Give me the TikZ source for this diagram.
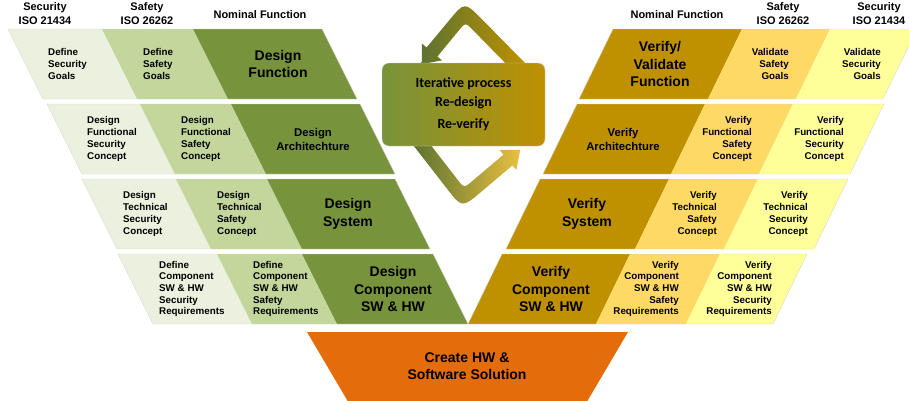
\documentclass[tikz,border=0pt]{standalone}
\usepackage{fontspec}
\setmainfont{Liberation Sans}
\newfontfamily\calfont{Carlito}
\definecolor{greenA}{HTML}{EBF1DE}
\definecolor{greenB}{HTML}{C3D69B}
\definecolor{greenC}{HTML}{77933C}
\definecolor{goldA}{HTML}{FFFF99}
\definecolor{goldB}{HTML}{FFD966}
\definecolor{goldC}{HTML}{BF9000}
\definecolor{orangeV}{HTML}{E46C0A}
\definecolor{arrowG}{HTML}{5C7331}
\definecolor{arrowY}{HTML}{E8C040}

\begin{document}
\begin{tikzpicture}[x=1pt,y=-1pt,
 rowline/.style={draw=black!16,line width=0.4pt},
 head/.style={font=\fontsize{11}{14}\selectfont\bfseries,align=center,inner sep=0pt},
 small/.style={font=\fontsize{9.8}{11.7}\selectfont\bfseries,inner sep=0pt},
 big/.style={font=\fontsize{14}{17.5}\selectfont\bfseries,align=center,inner sep=0pt},
 mid/.style={font=\fontsize{11.3}{14}\selectfont\bfseries,align=center,inner sep=0pt},
 box/.style={rounded corners=7pt,minimum width=163pt,minimum height=83pt,
   left color=greenC,right color=goldC,draw=black!20,align=center,inner sep=0pt,
   font=\calfont\bfseries\fontsize{14}{19}\selectfont}]
\useasboundingbox (0,0) rectangle (909,400);

% design side
\foreach \t/\a/\b/\c/\d in {29/8/102/193/322,104/47/140/231/360,179/82/176/267/395,254/118/217/302/433}{
 \fill[greenA] (\a,\t) -- (\b,\t) -- (\b+35,\t+70) -- (\a+35,\t+70) -- cycle;
 \fill[greenB] (\b,\t) -- (\c,\t) -- (\c+35,\t+70) -- (\b+35,\t+70) -- cycle;
 \fill[greenC] (\c,\t) -- (\d,\t) -- (\d+35,\t+70) -- (\c+35,\t+70) -- cycle;
 \draw[rowline] (\a,\t) -- (\d,\t) -- (\d+35,\t+70) -- (\a+35,\t+70) -- cycle;
}
% verify side
\foreach \t/\a/\b/\c/\d in {29/613/742/830/917,104/577/705/793/884,179/540/669/758/848,254/502/630/720/807}{
 \fill[goldC] (\a,\t) -- (\b,\t) -- (\b-34,\t+70) -- (\a-34,\t+70) -- cycle;
 \fill[goldB] (\b,\t) -- (\c,\t) -- (\c-34,\t+70) -- (\b-34,\t+70) -- cycle;
 \fill[goldA] (\c,\t) -- (\d,\t) -- (\d-34,\t+70) -- (\c-34,\t+70) -- cycle;
 \draw[rowline] (\a,\t) -- (\d,\t) -- (\d-34,\t+70) -- (\a-34,\t+70) -- cycle;
}
% bottom
\fill[orangeV] (307,332) -- (628,332) -- (585,405) -- (350,405) -- cycle;

% loop arrows
\shade[left color=arrowG,right color=goldC] (515,73) -- (525,63) -- (482.1,19.4)
  .. controls (464.6,1.6) and (464.6,1.6) .. (448.7,20.9) -- (426.6,47.5) -- (422,43.6) -- (421.7,64.2)
  -- (442,60.4) -- (437.4,56.5) -- (459.1,30.1) .. controls (465.4,22.4) .. (472.4,29.5) -- cycle;
\shade[left color=arrowG,right color=arrowY] (412.5,144.3) -- (446.7,188.3)
  .. controls (462,208) and (462,208) .. (481.1,191.9) -- (512.5,165.4) -- (516.4,169.9) -- (520.2,149.7)
  -- (499.6,150.1) -- (503.5,154.7) -- (471.6,181.6) .. controls (464,188) .. (457.9,180.1)
  -- (423.5,135.7) -- cycle;
\node[box] (iter) at (463.5,104.5) {Iterative process\\Re-design\\[3pt]Re-verify};

% headers
\node[head] (secL) at (45,14) {Security\\ISO 21434};
\node[head] (safeL) at (147,14) {Safety\\ISO 26262};
\node[head] (nomL) at (260,15) {Nominal Function};
\node[head] (nomR) at (677,15) {Nominal Function};
\node[head] (safeR) at (783,14) {Safety\\ISO 26262};
\node[head] (secR) at (879,14) {Security\\ISO 21434};

% design texts
\node[small,anchor=west,align=left] (defSec) at (48,64) {Define\\Security\\Goals};
\node[small,anchor=west,align=left] (defSafe) at (143,64) {Define\\Safety\\Goals};
\node[big] (desFunc) at (278,64) {Design\\Function};
\node[small,anchor=west,align=left] (desFSec) at (87,139) {Design\\Functional\\Security\\Concept};
\node[small,anchor=west,align=left] (desFSafe) at (181,139) {Design\\Functional\\Safety\\Concept};
\node[mid] (desArch) at (313,139) {Design\\Architechture};
\node[small,anchor=west,align=left] (desTSec) at (123,214) {Design\\Technical\\Security\\Concept};
\node[small,anchor=west,align=left] (desTSafe) at (217,214) {Design\\Technical\\Safety\\Concept};
\node[big] (desSys) at (348,214) {Design\\System};
\node[small,anchor=west,align=left] (defCSec) at (159,289) {Define\\Component\\SW \& HW\\Security\\Requirements};
\node[small,anchor=west,align=left] (defCSafe) at (253,289) {Define\\Component\\SW \& HW\\Safety\\Requirements};
\node[big] (desComp) at (393,289) {Design\\Component\\SW \& HW};

% verify texts
\node[big] (verFunc) at (660,64) {Verify/\\Validate\\Function};
\node[small,anchor=east,align=right] (valSafe) at (789,64) {Validate\\Safety\\Goals};
\node[small,anchor=east,align=right] (valSec) at (881,64) {Validate\\Security\\Goals};
\node[mid] (verArch) at (623,139) {Verify\\Architechture};
\node[small,anchor=east,align=right] (verFSafe) at (752,139) {Verify\\Functional\\Safety\\Concept};
\node[small,anchor=east,align=right] (verFSec) at (844,139) {Verify\\Functional\\Security\\Concept};
\node[big] (verSys) at (587,214) {Verify\\System};
\node[small,anchor=east,align=right] (verTSafe) at (717,214) {Verify\\Technical\\Safety\\Concept};
\node[small,anchor=east,align=right] (verTSec) at (808,214) {Verify\\Technical\\Security\\Concept};
\node[big] (verComp) at (551,289) {Verify\\Component\\SW \& HW};
\node[small,anchor=east,align=right] (verCSafe) at (679,289) {Verify\\Component\\SW \& HW\\Safety\\Requirements};
\node[small,anchor=east,align=right] (verCSec) at (772,289) {Verify\\Component\\SW \& HW\\Security\\Requirements};

\node[big] (create) at (467,366) {Create HW \&\\Software Solution};
\end{tikzpicture}
\end{document}
